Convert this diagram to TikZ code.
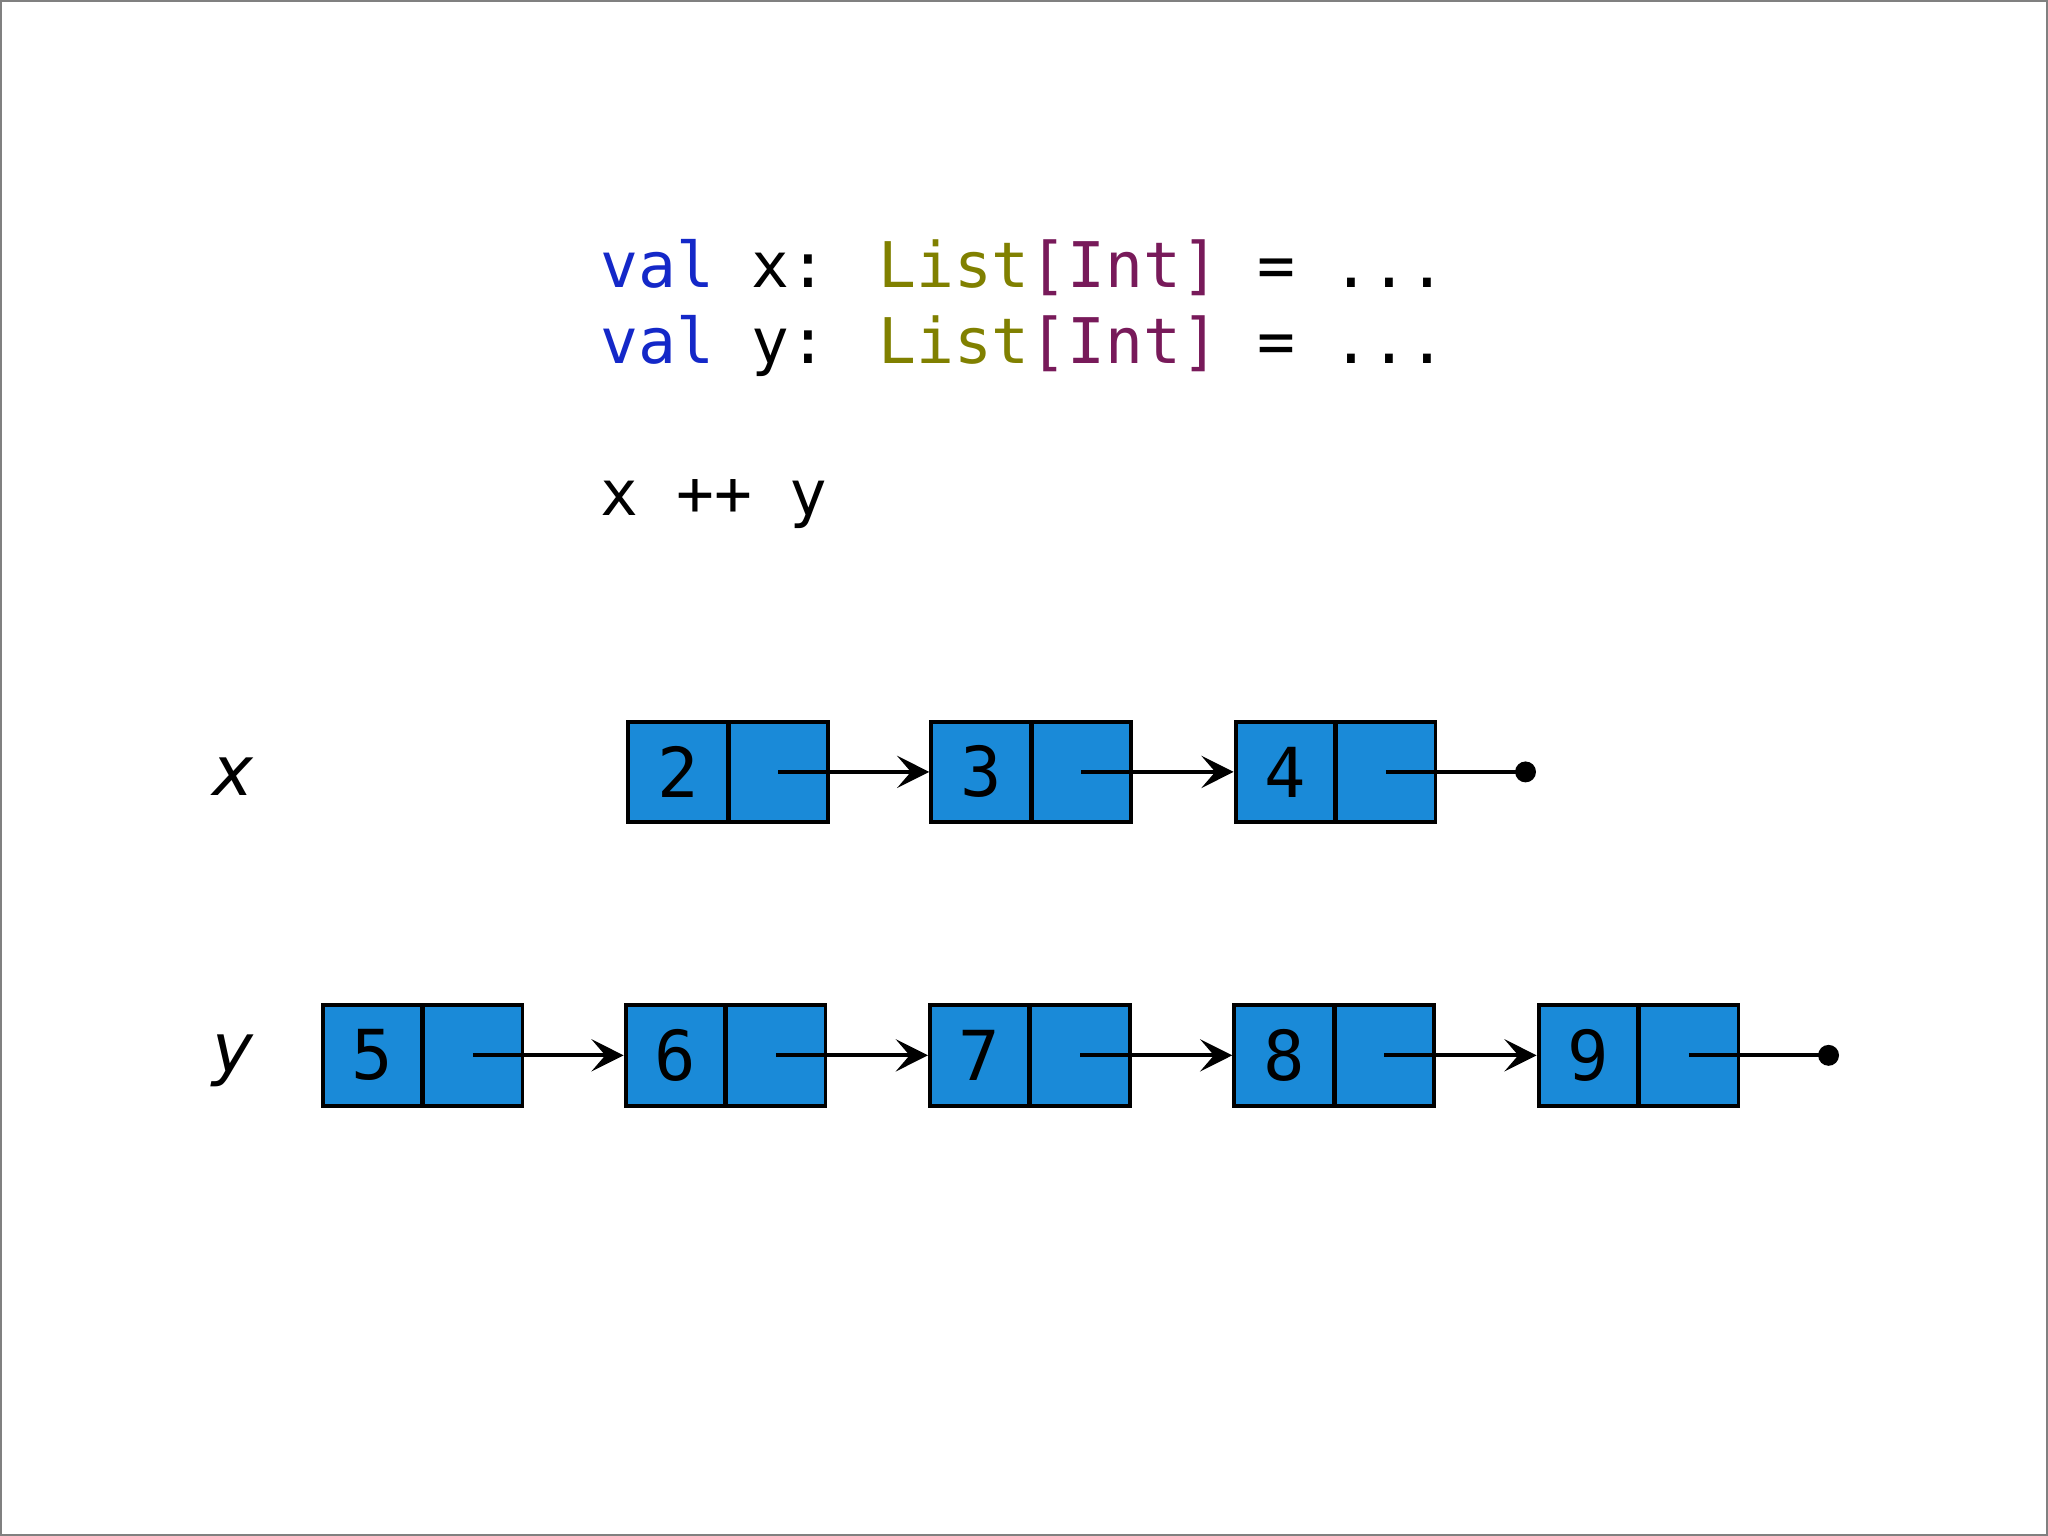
\documentclass[tikz,border=0pt]{standalone}
\usepackage{fontspec}
\setmainfont{DejaVu Sans}
\newfontfamily\mono{DejaVu Sans Mono}
\usetikzlibrary{arrows.meta}
\definecolor{cell}{HTML}{1A8AD8}
\definecolor{kw}{HTML}{1428C8}
\definecolor{ty}{HTML}{808000}
\definecolor{br}{HTML}{781A5A}
\begin{document}
\begin{tikzpicture}[x=0.01cm,y=-0.01cm,
  c/.style={draw=black,line width=0.85pt,fill=cell,inner sep=0,minimum width=0.76cm,minimum height=0.77cm,font=\mono\fontsize{15}{18}\selectfont},
  ar/.style={line width=0.9pt,-{Stealth[length=7pt,width=7pt,inset=3pt]}},
  nl/.style={line width=0.9pt},
  code/.style={anchor=base west,inner sep=0,font=\mono\fontsize{13.7}{16}\selectfont},
  lab/.style={font=\itshape\fontsize{15}{18}\selectfont}]
\useasboundingbox (0,0) rectangle (1568,1176);
\draw[gray,line width=0.4pt] (0.5,0.5) rectangle (1567.5,1175.5);
\node[code] (l1) at (459,220) {\textcolor{kw}{val} x: \textcolor{ty}{List}\textcolor{br}{[Int]} = ...};
\node[code] (l2) at (459,278) {\textcolor{kw}{val} y: \textcolor{ty}{List}\textcolor{br}{[Int]} = ...};
\node[code] (l3) at (459,395) {x ++ y};
\node[lab] (lx) at (178,595) {x};
\node[lab] (ly) at (178,812) {y};
% x row
\foreach \n/\x in {2/481,3/713,4/946}{
  \node[c] (a\n) at (\x+38,591) {\n};
  \node[c] (b\n) at (\x+115,591) {};
}
\coordinate (ex) at (1168,591);
\draw[ar] (b2.center) -- (a3.west);
\draw[ar] (b3.center) -- (a4.west);
\draw[nl] (b4.center) -- (ex);
\fill (ex) circle (0.08cm);
% y row
\foreach \n/\x in {5/247,6/479,7/712,8/945,9/1178}{
  \node[c] (a\n) at (\x+38,808) {\n};
  \node[c] (b\n) at (\x+115,808) {};
}
\coordinate (ey) at (1400,808);
\draw[ar] (b5.center) -- (a6.west);
\draw[ar] (b6.center) -- (a7.west);
\draw[ar] (b7.center) -- (a8.west);
\draw[ar] (b8.center) -- (a9.west);
\draw[nl] (b9.center) -- (ey);
\fill (ey) circle (0.08cm);
\end{tikzpicture}
\end{document}
